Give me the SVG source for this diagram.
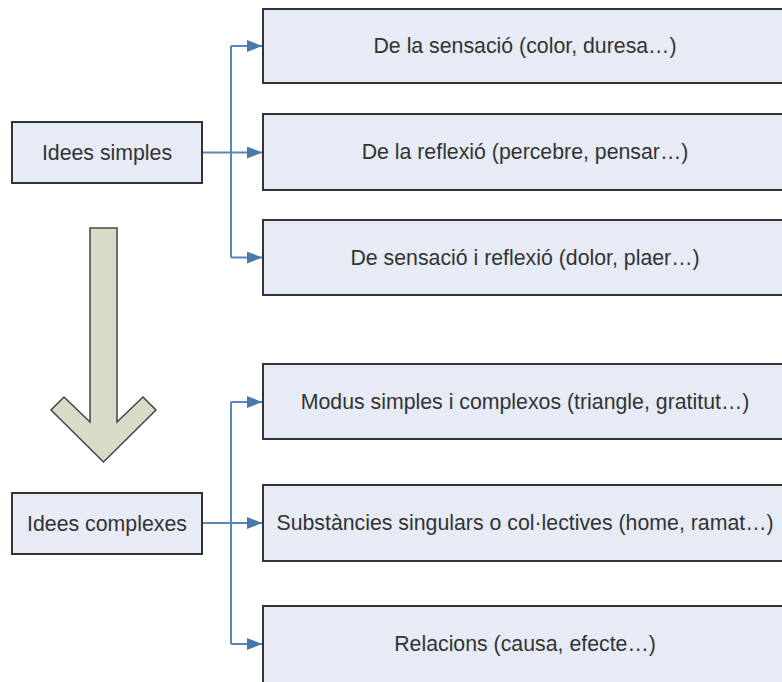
<svg xmlns="http://www.w3.org/2000/svg" width="782" height="682" viewBox="0 0 782 682">
<style>
.box{fill:#e6ebf5;stroke:#333;stroke-width:2}
.t{font-family:"Liberation Sans",Arial,sans-serif;font-size:21.3px;fill:#333;text-anchor:middle}
.c{fill:none;stroke:#5b85b5;stroke-width:2}
</style>
<defs>
<marker id="ah" viewBox="0 0 15 12" refX="15" refY="6" markerWidth="15" markerHeight="12" markerUnits="userSpaceOnUse" orient="auto">
<path d="M0,0 L15,6 L0,12 Z" fill="#4a78ad"/>
</marker>
</defs>
<rect width="782" height="682" fill="#fff"/>
<g id="big-arrow">
<path d="M90,228 L117,228 L117,422 L143,397 L156,410 L103.5,462 L51,410 L64,397 L90,422 Z" fill="#d9dbc8" stroke="#444" stroke-width="1.5" stroke-linejoin="miter"/>
</g>
<g id="connectors">
<path class="c" d="M202,152.5 L262,152.5" marker-end="url(#ah)"/>
<path class="c" d="M231,46 L231,257.5"/>
<path class="c" d="M231,46 L262,46" marker-end="url(#ah)"/>
<path class="c" d="M231,257.5 L262,257.5" marker-end="url(#ah)"/>
<path class="c" d="M202,523 L262,523" marker-end="url(#ah)"/>
<path class="c" d="M231,402 L231,644"/>
<path class="c" d="M231,402 L262,402" marker-end="url(#ah)"/>
<path class="c" d="M231,644 L262,644" marker-end="url(#ah)"/>
</g>
<g id="idees-simples">
<rect class="box" x="12" y="122" width="190" height="61"/>
<text class="t" x="107" y="160">Idees simples</text>
</g>
<g id="idees-complexes">
<rect class="box" x="12" y="493" width="190" height="61"/>
<text class="t" x="107" y="531">Idees complexes</text>
</g>
<g id="sensacio">
<rect class="box" x="263" y="9" width="526" height="74"/>
<text class="t" x="525" y="53">De la sensació (color, duresa…)</text>
</g>
<g id="reflexio">
<rect class="box" x="263" y="114" width="526" height="76"/>
<text class="t" x="525" y="159">De la reflexió (percebre, pensar…)</text>
</g>
<g id="sensacio-reflexio">
<rect class="box" x="263" y="220" width="526" height="75"/>
<text class="t" x="525" y="265">De sensació i reflexió (dolor, plaer…)</text>
</g>
<g id="modus">
<rect class="box" x="263" y="364" width="526" height="75"/>
<text class="t" x="525" y="409">Modus simples i complexos (triangle, gratitut…)</text>
</g>
<g id="substancies">
<rect class="box" x="263" y="485" width="526" height="76"/>
<text class="t" x="525" y="530">Substàncies singulars o col·lectives (home, ramat…)</text>
</g>
<g id="relacions">
<rect class="box" x="263" y="606" width="526" height="80"/>
<text class="t" x="525" y="651">Relacions (causa, efecte…)</text>
</g>
</svg>
